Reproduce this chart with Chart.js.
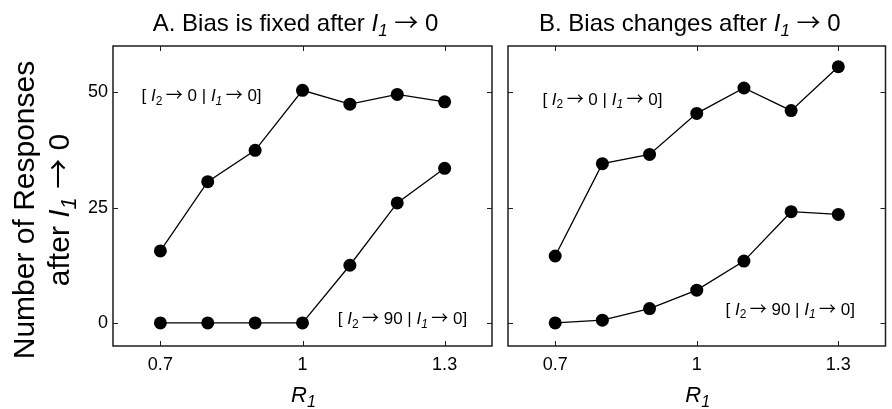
<!DOCTYPE html>
<html>
<head>
<meta charset="utf-8">
<script src="https://cdn.jsdelivr.net/npm/chart.js@4/dist/chart.umd.min.js"></script>
<style>
  body { margin: 0; background: #fff; }
  #wrap { position: relative; width: 892px; height: 409px; }
  canvas { position: absolute; top: 0; }
</style>
</head>
<body>
<div id="wrap">
  <canvas id="panelA" width="500" height="409" style="left:0"></canvas>
  <canvas id="panelB" width="392" height="409" style="left:500px"></canvas>
</div>
<script>
const rValues = [0.7, 0.8, 0.9, 1.0, 1.1, 1.2, 1.3];
const fixedTo0 = [15.6, 30.6, 37.4, 50.4, 47.4, 49.5, 47.9];
const fixedTo90 = [0, 0, 0, 0, 12.5, 26.0, 33.5];
const changesTo0 = [14.5, 34.5, 36.5, 45.4, 50.9, 46.0, 55.5];
const changesTo90 = [0, 0.6, 3.1, 7.1, 13.4, 24.1, 23.5];
const xTicks = [0.7, 1, 1.3];
const yTicks = [0, 25, 50];

const FONT = '"Liberation Sans", Arial, Helvetica, sans-serif';
const SYM = '"Noto Sans CJK SC", "DejaVu Sans", sans-serif';

const fontOf = (s, size) => {
  const sz = s.sub ? Math.round(size * 0.72) : size;
  return (s.it ? 'italic ' : '') + sz + 'px ' + (s.sym ? SYM : FONT);
};

// text with italic parts, subscripts and arrows, centred on x, baseline y
const drawRich = (ctx, segs, x, y, size) => {
  let w = 0;
  segs.forEach(s => { ctx.font = fontOf(s, size); w += ctx.measureText(s.t).width; });
  let cx = x - w / 2;
  ctx.textAlign = 'left';
  ctx.textBaseline = 'alphabetic';
  segs.forEach(s => {
    ctx.font = fontOf(s, size);
    ctx.fillText(s.t, cx, y + (s.sub ? size * 0.22 : 0));
    cx += ctx.measureText(s.t).width;
  });
};

const arrow = { t: '\u2192', sym: true };
const label0 = [
  { t: '[ ' }, { t: 'I', it: true }, { t: '2', sub: true }, { t: '\u2009' }, arrow, { t: ' 0 | ' },
  { t: 'I', it: true }, { t: '1', sub: true, it: true }, { t: '\u2009' }, arrow, { t: ' 0]' }
];
const label90 = [
  { t: '[ ' }, { t: 'I', it: true }, { t: '2', sub: true }, { t: '\u2009' }, arrow, { t: ' 90 | ' },
  { t: 'I', it: true }, { t: '1', sub: true, it: true }, { t: '\u2009' }, arrow, { t: ' 0]' }
];
const xTitle = [{ t: 'R', it: true }, { t: '1', sub: true, it: true }];

const figPlugin = {
  id: 'fig',
  afterDraw(chart, args, opts) {
    const ctx = chart.ctx;
    const { left, right, top, bottom } = chart.chartArea;
    const xs = chart.scales.x, ys = chart.scales.y;
    ctx.save();
    ctx.strokeStyle = '#1e1e1e';
    ctx.lineWidth = 1.5;
    ctx.strokeRect(left, top, right - left, bottom - top);
    ctx.lineWidth = 1;
    ctx.beginPath();
    xTicks.forEach(v => {
      const px = Math.round(xs.getPixelForValue(v)) + 0.5;
      ctx.moveTo(px, bottom); ctx.lineTo(px, bottom - 5);
      ctx.moveTo(px, top); ctx.lineTo(px, top + 5);
    });
    yTicks.forEach(v => {
      const py = Math.round(ys.getPixelForValue(v)) + 0.5;
      ctx.moveTo(left, py); ctx.lineTo(left + 5, py);
      ctx.moveTo(right, py); ctx.lineTo(right - 5, py);
    });
    ctx.stroke();

    ctx.fillStyle = '#000';
    // panel title
    drawRich(ctx, opts.title, (left + right) / 2 - 7, 31, 24);
    // annotations
    opts.notes.forEach(n => {
      drawRich(ctx, n.segs, xs.getPixelForValue(n.x), ys.getPixelForValue(n.y), 17);
    });
    // x axis title
    drawRich(ctx, xTitle, xs.getPixelForValue(1) + 1, 402, 22);
    // y axis title
    if (opts.yTitle) {
      ctx.save();
      ctx.translate(34, 210);
      ctx.rotate(-Math.PI / 2);
      drawRich(ctx, [{ t: 'Number of Responses' }], 0, 0, 30);
      ctx.restore();
      ctx.save();
      ctx.translate(69, 210);
      ctx.rotate(-Math.PI / 2);
      drawRich(ctx, [{ t: 'after ' }, { t: 'I', it: true }, { t: '1', sub: true, it: true }, { t: ' ' }, arrow, { t: ' 0' }], 0, 0, 30);
      ctx.restore();
    }
    ctx.restore();
  }
};

const makeSeries = (vals) => ({
  data: rValues.map((r, i) => ({ x: r, y: vals[i] })),
  borderColor: '#000',
  backgroundColor: '#000',
  borderWidth: 1.3,
  pointRadius: 6.5,
  pointHoverRadius: 6.5,
  pointBorderWidth: 0,
  tension: 0
});

const zeroPad = (s) => { s.paddingTop = 0; s.paddingBottom = 0; s.paddingLeft = 0; s.paddingRight = 0; };

const makeChart = (id, s0, s90, cfg) => {
  new Chart(document.getElementById(id), {
    type: 'line',
    data: { datasets: [makeSeries(s0), makeSeries(s90)] },
    plugins: [figPlugin],
    options: {
      responsive: false,
      animation: false,
      layout: { padding: { left: 0, right: cfg.padRight, top: 46, bottom: 0 } },
      plugins: {
        legend: { display: false },
        tooltip: { enabled: false },
        fig: { title: cfg.title, notes: cfg.notes, yTitle: cfg.yTitle }
      },
      scales: {
        x: {
          type: 'linear',
          min: 0.6,
          max: 1.4,
          afterBuildTicks: (s) => { s.ticks = xTicks.map(v => ({ value: v })); },
          afterFit: (s) => { s.height = 63; zeroPad(s); },
          grid: { display: false, drawTicks: false },
          border: { display: false },
          ticks: {
            color: '#000',
            padding: 8,
            maxRotation: 0,
            font: { family: FONT, size: 18 },
            callback: (v) => String(Math.round(v * 10) / 10)
          }
        },
        y: {
          min: -5,
          max: 60,
          afterBuildTicks: (s) => { s.ticks = yTicks.map(v => ({ value: v })); },
          afterFit: (s) => { s.width = cfg.yWidth; zeroPad(s); },
          grid: { display: false, drawTicks: false },
          border: { display: false },
          ticks: {
            display: cfg.yLabels,
            color: '#000',
            padding: 5,
            font: { family: FONT, size: 18 }
          }
        }
      }
    }
  });
};

makeChart('panelA', fixedTo0, fixedTo90, {
  padRight: 8,
  yWidth: 113,
  yLabels: true,
  yTitle: true,
  title: [{ t: 'A. Bias is fixed after ' }, { t: 'I', it: true }, { t: '1', sub: true, it: true }, { t: ' ' }, arrow, { t: ' 0' }],
  notes: [
    { segs: label0, x: 0.787, y: 48.0 },
    { segs: label90, x: 1.211, y: -0.2 }
  ]
});

makeChart('panelB', changesTo0, changesTo90, {
  padRight: 1,
  yWidth: 8,
  yLabels: false,
  yTitle: false,
  title: [{ t: 'B. Bias changes after ' }, { t: 'I', it: true }, { t: '1', sub: true, it: true }, { t: ' ' }, arrow, { t: ' 0' }],
  notes: [
    { segs: label0, x: 0.8, y: 47.3 },
    { segs: label90, x: 1.198, y: 1.8 }
  ]
});
</script>
</body>
</html>
